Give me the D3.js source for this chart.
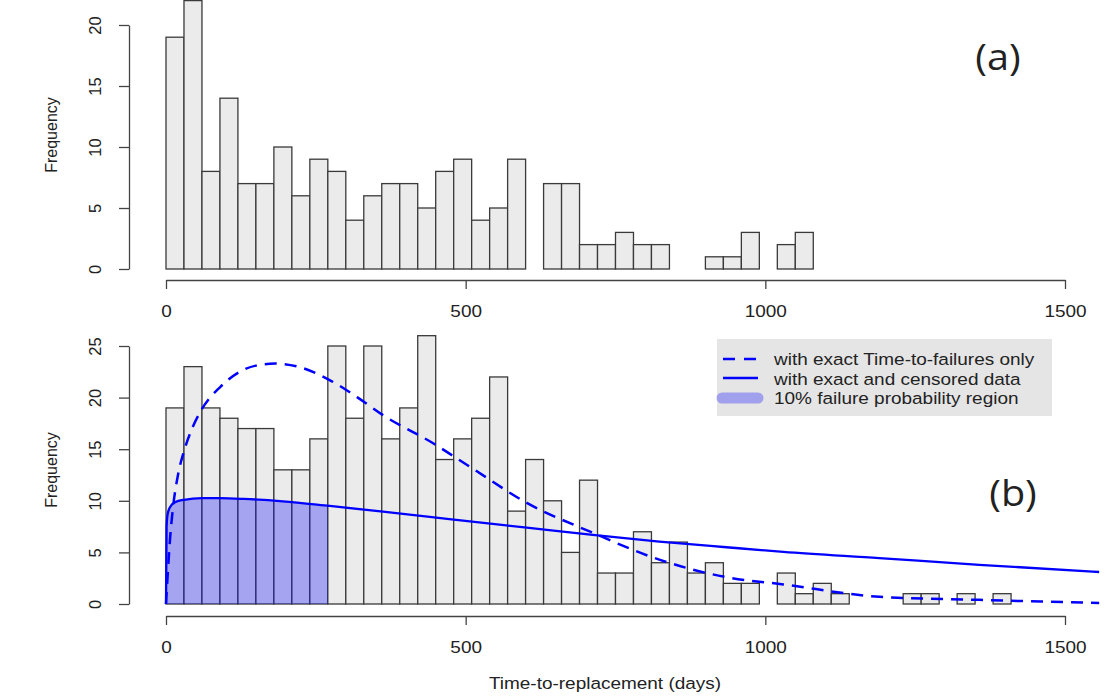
<!DOCTYPE html>
<html>
<head>
<meta charset="utf-8">
<script src="https://cdn.jsdelivr.net/npm/d3@7"></script>
<style>
  body { margin: 0; background: #fff; }
  text { font-family: "Liberation Sans", Arial, sans-serif; fill: #222; }
</style>
</head>
<body>
<svg id="chart" width="1115" height="700"></svg>
<script>
// histogram bins are 30 days wide, from 0 to 1500
var binWidth = 30;
var xTicks = [0, 500, 1000, 1500];
var yTicksTop = [0, 5, 10, 15, 20];
var yTicksBottom = [0, 5, 10, 15, 20, 25];

// (a) counts per bin
var countsTop = [19, 22, 8, 14, 7, 7, 10, 6, 9, 8,
                 4, 6, 7, 7, 5, 8, 9, 4, 5, 9,
                 0, 7, 7, 2, 2, 3, 2, 2, 0, 0,
                 1, 1, 3, 0, 2, 3, 0, 0, 0, 0,
                 0, 0, 0, 0, 0, 0, 0, 0, 0, 0];

// (b) counts per bin
var countsBottom = [19, 23, 19, 18, 17, 17, 13, 13, 16, 25,
                    18, 25, 16, 19, 26, 14, 16, 18, 22, 9,
                    14, 10, 5, 12, 3, 3, 7, 4, 6, 3,
                    4, 2, 2, 0, 3, 1, 2, 1, 0, 0,
                    0, 1, 1, 0, 1, 0, 1, 0, 0, 0];

// fitted curves (days, frequency)
var dashedDays = [0, 3, 7, 12, 20, 30, 45, 60, 90, 120, 150, 182, 220, 273, 320, 362, 445, 507, 602, 712, 823, 935, 1030, 1190, 1357, 1557];
var dashedVals = [0, 3, 6.5, 9.5, 12.5, 14.8, 17.2, 18.9, 21.0, 22.4, 23.1, 23.3, 23.0, 21.7, 20.0, 18.3, 15.6, 13.3, 9.8, 6.9, 4.3, 2.6, 1.9, 0.7, 0.4, 0.1];

var solidDays = [0, 1, 3, 8, 15, 30, 60, 90, 130, 195, 273, 362, 440, 507, 602, 712, 823, 935, 1030, 1190, 1357, 1557];
var solidVals = [0, 7.5, 8.8, 9.5, 9.85, 10.1, 10.25, 10.25, 10.18, 9.95, 9.5, 8.95, 8.45, 8.0, 7.4, 6.7, 6.05, 5.5, 5.05, 4.45, 3.8, 3.1];

// 10% failure probability region ends here
var shadeEnd = 270;

var legendLabels = ["with exact Time-to-failures only",
                    "with exact and censored data",
                    "10% failure probability region"];

var svg = d3.select("#chart");
var stretch = 1.15; // the original figure is a bit wider than tall

var x = d3.scaleLinear().domain([0, 1500]).range([166, 1065]);
var yTop = d3.scaleLinear().domain([0, 20]).range([269, 25]);
var yBot = d3.scaleLinear().domain([0, 25]).range([604, 346]);

function bins(counts) {
    return counts.map(function(c, i) { return { x0: i * binWidth, x1: (i + 1) * binWidth, n: c }; });
}

function drawBars(g, counts, y) {
    g.selectAll("rect.bar")
        .data(bins(counts))
        .enter().append("rect")
        .attr("class", "bar")
        .attr("x", function(d) { return x(d.x0); })
        .attr("width", function(d) { return x(d.x1) - x(d.x0); })
        .attr("y", function(d) { return y(d.n); })
        .attr("height", function(d) { return y(0) - y(d.n); })
        .attr("fill", "#ebebeb")
        .attr("stroke", "#3a3a3a")
        .attr("stroke-width", 1.3);
}

function drawYAxis(g, y, ticks, labelY) {
    var ax = g.append("g")
        .attr("transform", "translate(129,0)")
        .call(d3.axisLeft(y).tickValues(ticks).tickSize(10).tickSizeOuter(0));
    ax.select(".domain").attr("stroke", "#444").attr("stroke-width", 1.3);
    ax.selectAll(".tick line").attr("stroke", "#444").attr("stroke-width", 1.3);
    ax.selectAll(".tick text")
        .attr("transform", "rotate(-90)")
        .attr("x", 0).attr("y", -28).attr("dy", 0)
        .attr("text-anchor", "middle")
        .style("font-size", "16.5px")
        .attr("fill", "#222");
    g.append("text")
        .attr("transform", "translate(57," + labelY + ") rotate(-90)")
        .attr("text-anchor", "middle")
        .style("font-size", "16px")
        .text("Frequency");
}

function drawXAxis(g, yPos) {
    var ax = g.append("g")
        .attr("transform", "translate(0," + yPos + ")")
        .call(d3.axisBottom(x).tickValues(xTicks).tickFormat(d3.format("d"))
            .tickSize(9).tickSizeOuter(0).tickPadding(16));
    ax.select(".domain").attr("stroke", "#444").attr("stroke-width", 1.3);
    ax.selectAll(".tick line").attr("stroke", "#444").attr("stroke-width", 1.3);
    ax.selectAll(".tick text")
        .attr("transform", "scale(" + stretch + ",1)")
        .style("font-size", "16.5px")
        .attr("fill", "#222");
}

// ---------- panel (a) ----------
var gTop = svg.append("g");
drawBars(gTop, countsTop, yTop);
drawYAxis(gTop, yTop, yTicksTop, 135);
drawXAxis(gTop, 280);

gTop.append("text")
    .attr("transform", "translate(998,70) scale(1.1,1)")
    .attr("text-anchor", "middle")
    .style("font-family", "'Open Sans', sans-serif")
    .style("font-size", "36px")
    .attr("fill", "#000")
    .text("(a)");

// ---------- panel (b) ----------
var gBot = svg.append("g");
drawBars(gBot, countsBottom, yBot);

var solid = solidDays.map(function(d, i) { return [d, solidVals[i]]; });
var dashed = dashedDays.map(function(d, i) { return [d, dashedVals[i]]; });

svg.append("clipPath").attr("id", "shade")
    .append("rect")
    .attr("x", x(0)).attr("y", 0)
    .attr("width", x(shadeEnd) - x(0)).attr("height", 700);

var area = d3.area()
    .x(function(d) { return x(d[0]); })
    .y0(yBot(0))
    .y1(function(d) { return yBot(d[1]); })
    .curve(d3.curveMonotoneX);

gBot.append("path")
    .datum(solid)
    .attr("clip-path", "url(#shade)")
    .attr("d", area)
    .attr("fill", "rgba(0,0,255,0.3)");

var line = d3.line()
    .x(function(d) { return x(d[0]); })
    .y(function(d) { return yBot(d[1]); })
    .curve(d3.curveMonotoneX);

gBot.append("path")
    .datum(dashed)
    .attr("d", line)
    .attr("fill", "none")
    .attr("stroke", "#0000ff")
    .attr("stroke-width", 2.5)
    .attr("stroke-dasharray", "12,8");

gBot.append("path")
    .datum(solid)
    .attr("d", line)
    .attr("fill", "none")
    .attr("stroke", "#0000ff")
    .attr("stroke-width", 2.3);

drawYAxis(gBot, yBot, yTicksBottom, 470);
drawXAxis(gBot, 616);

gBot.append("text")
    .attr("transform", "translate(1013,506) scale(1.1,1)")
    .attr("text-anchor", "middle")
    .style("font-family", "'Open Sans', sans-serif")
    .style("font-size", "36px")
    .attr("fill", "#000")
    .text("(b)");

svg.append("text")
    .attr("transform", "translate(605,689) scale(" + stretch + ",1)")
    .attr("text-anchor", "middle")
    .style("font-size", "16.5px")
    .text("Time-to-replacement (days)");

// ---------- legend ----------
var lg = svg.append("g").attr("transform", "translate(717,339)");
lg.append("rect")
    .attr("width", 335).attr("height", 77)
    .attr("fill", "#e5e5e5");

lg.append("line")
    .attr("x1", 6).attr("x2", 41).attr("y1", 20).attr("y2", 20)
    .attr("stroke", "#0000ff").attr("stroke-width", 2.5)
    .attr("stroke-dasharray", "12,9");
lg.append("line")
    .attr("x1", 6).attr("x2", 41).attr("y1", 39).attr("y2", 39)
    .attr("stroke", "#0000ff").attr("stroke-width", 2.5);
lg.append("line")
    .attr("x1", 5).attr("x2", 41).attr("y1", 59).attr("y2", 59)
    .attr("stroke", "rgba(0,0,255,0.3)").attr("stroke-width", 11)
    .attr("stroke-linecap", "round");

lg.selectAll("text.leg")
    .data(legendLabels)
    .enter().append("text")
    .attr("class", "leg")
    .attr("transform", function(d, i) { return "translate(57," + (26 + i * 19.5) + ") scale(" + stretch + ",1)"; })
    .style("font-size", "16.5px")
    .text(function(d) { return d; });
</script>
</body>
</html>
